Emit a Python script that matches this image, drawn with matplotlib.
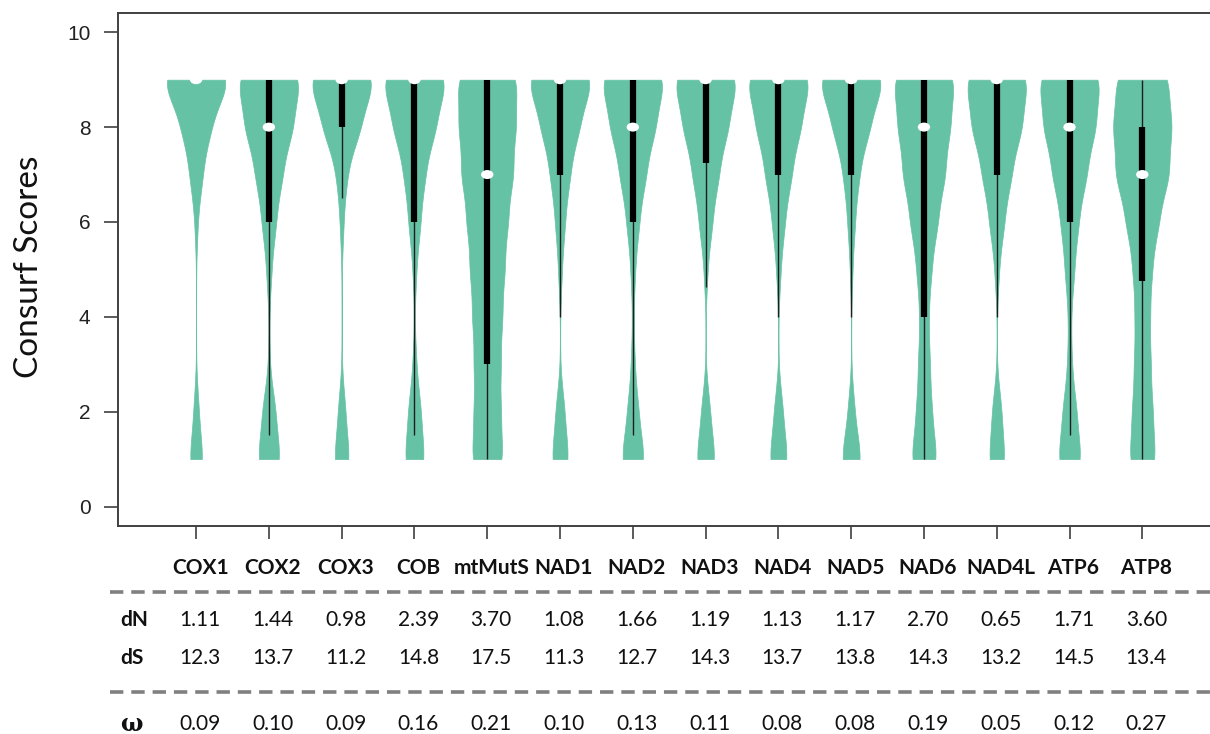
import numpy as np
import matplotlib.pyplot as plt
from matplotlib.patches import Ellipse
from matplotlib.lines import Line2D
from matplotlib.transforms import blended_transform_factory

# genes along the x axis
genes = ['COX1', 'COX2', 'COX3', 'COB', 'mtMutS', 'NAD1', 'NAD2', 'NAD3',
         'NAD4', 'NAD5', 'NAD6', 'NAD4L', 'ATP6', 'ATP8']

# ConSurf grades 1..9 and the relative weight of each grade per gene
grades = np.arange(1, 10)
w_cox1 = [18, 7, 0.3, 0.2, 0.3, 4, 17, 38, 91]
w_cox2 = [31, 18, 2, 1, 7, 19, 36, 64, 87]
w_cox3 = [21, 10, 0.5, 0.3, 0.6, 5, 14, 50, 90]
w_cob = [27, 17, 5, 0.3, 5, 16, 28, 56, 88]
w_mtmuts = [41, 34, 34, 38, 44, 52, 66, 72, 79]
w_nad1 = [23, 12, 0.3, 0.4, 5, 13, 26, 50, 89]
w_nad2 = [32, 15, 5, 2, 6, 17, 35, 60, 88]
w_nad3 = [26, 12, 0.3, 0.2, 5, 18, 35, 60, 88]
w_nad4 = [25, 12, 0.3, 0.2, 6, 17, 35, 59, 88]
w_nad5 = [27, 9, 0.3, 0.2, 3.5, 10, 21, 49, 90]
w_nad6 = [36, 21, 16, 12, 20, 37, 57, 70, 86]
w_nad4l = [22, 13, 0.3, 0.2, 6, 20, 39, 67, 86]
w_atp6 = [32, 19, 6, 4, 13, 24, 46, 70, 86]
w_atp8 = [34, 26, 21, 19, 24, 41, 68, 74, 68]
grade_w = [w_cox1, w_cox2, w_cox3, w_cob, w_mtmuts, w_nad1, w_nad2, w_nad3,
           w_nad4, w_nad5, w_nad6, w_nad4l, w_atp6, w_atp8]

# box statistics
medians = [9, 8, 9, 9, 7, 9, 8, 9, 9, 9, 8, 9, 8, 7]
q1 = [9, 6, 8, 6, 3, 7, 6, 7.25, 7, 7, 4, 7, 6, 4.75]
q3 = [9, 9, 9, 9, 9, 9, 9, 9, 9, 9, 9, 9, 9, 8]

# substitution rates
dN = [1.11, 1.44, 0.98, 2.39, 3.70, 1.08, 1.66, 1.19, 1.13, 1.17, 2.70, 0.65, 1.71, 3.60]
dS = [12.3, 13.7, 11.2, 14.8, 17.5, 11.3, 12.7, 14.3, 13.7, 13.8, 14.3, 13.2, 14.5, 13.4]
omega = [0.09, 0.10, 0.09, 0.16, 0.21, 0.10, 0.13, 0.11, 0.08, 0.08, 0.19, 0.05, 0.12, 0.27]

green = '#66c2a5'
bw = 0.513

fig = plt.figure(figsize=(12.1, 7.34), dpi=100)
ax = fig.add_axes([0.0978, 0.2834, 0.9022, 0.6985])

yy = np.linspace(1, 9, 500)
for i, w in enumerate(grade_w):
    w = np.asarray(w, float)
    dens = (w[:, None] * np.exp(-0.5 * ((yy[None, :] - grades[:, None]) / bw) ** 2)).sum(0)
    half = 0.40 * dens / dens.max()
    ax.fill_betweenx(yy, i - half, i + half, facecolor=green, edgecolor=green,
                     lw=0.5, zorder=1)

    # whiskers (1.5 IQR, clipped to the grade range) and box
    iqr = q3[i] - q1[i]
    lo = max(grades.min(), q1[i] - 1.5 * iqr)
    hi = min(grades.max(), q3[i] + 1.5 * iqr)
    if hi > lo:
        ax.plot([i, i], [lo, hi], color='#1e1e1e', lw=1.0, solid_capstyle='butt', zorder=2)
    if q3[i] > q1[i]:
        ax.plot([i, i], [q1[i], q3[i]], color='black', lw=4.5, solid_capstyle='butt', zorder=3)
    ax.add_patch(Ellipse((i, medians[i]), 0.17, 0.19, facecolor='white',
                         edgecolor='none', zorder=4))

ax.set_xlim(-1.068, 13.93)
ax.set_ylim(-0.41, 10.40)
ax.set_xticks(np.arange(len(genes)))
ax.set_yticks(range(0, 11, 2))
ax.tick_params(axis='x', length=9, width=1.2, color='#404040', labelbottom=False)
ax.tick_params(axis='y', length=10, width=1.2, color='#404040', pad=10,
               labelsize=15, labelcolor='#222222')
for lab in ax.get_yticklabels():
    lab.set_family('Liberation Sans')
ax.spines['right'].set_visible(False)
for s in ['left', 'bottom', 'top']:
    ax.spines[s].set_color('#404040')
    ax.spines[s].set_linewidth(1.4)

fig.text(29 / 1210, 1 - 267 / 734, 'Consurf Scores', rotation=90, family='Lato',
         fontsize=24, va='center', ha='center', color='#111111')

# table under the axis
tr = blended_transform_factory(ax.transData, fig.transFigure)
font = dict(family=['Lato', 'DejaVu Sans'], fontsize=15, color='#111111',
            ha='center', va='center')
y_gene, y_dn, y_ds, y_om = 0.2262, 0.1553, 0.1035, 0.0136
for i, g in enumerate(genes):
    xt = i + 0.055
    ax.text(xt, y_gene, g, transform=tr, fontweight='bold', clip_on=False, **font)
    ax.text(xt, y_dn, f'{dN[i]:.2f}', transform=tr, clip_on=False, **font)
    ax.text(xt, y_ds, f'{dS[i]:.1f}', transform=tr, clip_on=False, **font)
    ax.text(xt, y_om, f'{omega[i]:.2f}', transform=tr, clip_on=False, **font)

x_row = 120 / 1210
fig.text(x_row, y_dn, 'dN', family='Lato', fontsize=15, fontweight='bold',
         va='center', ha='left', color='#111111')
fig.text(x_row, y_ds, 'dS', family='Lato', fontsize=15, fontweight='bold',
         va='center', ha='left', color='#111111')
fig.text(x_row, y_om, 'ω', family='DejaVu Serif', fontsize=17, fontweight='bold',
         va='center', ha='left', color='#111111')

for yl in [1 - 592 / 734, 1 - 692 / 734]:
    fig.add_artist(Line2D([110 / 1210, 1.0], [yl, yl], transform=fig.transFigure,
                          color='#808080', lw=2.6, dashes=(3.7, 2.2)))

fig.savefig('out.png', dpi=100, facecolor='white')
